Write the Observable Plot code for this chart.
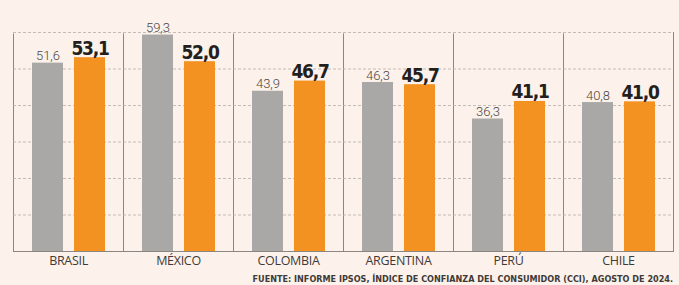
<!DOCTYPE html>
<html>
<head>
<meta charset="utf-8">
<script src="https://cdn.jsdelivr.net/npm/d3@7"></script>
<script src="https://cdn.jsdelivr.net/npm/@observablehq/plot@0.6"></script>
<style>
  html, body { margin: 0; padding: 0; background: #fcf2eb; }
  #chart svg { display: block; }
</style>
</head>
<body>
<div id="chart"></div>
<script>
const countries = ["BRASIL", "MÉXICO", "COLOMBIA", "ARGENTINA", "PERÚ", "CHILE"];
const series = ["anterior", "actual"];
const previous = [51.6, 59.3, 43.9, 46.3, 36.3, 40.8];
const current = [53.1, 52.0, 46.7, 45.7, 41.1, 41.0];
const gridTicks = [10, 20, 30, 40, 50, 60];
const source = "FUENTE: INFORME IPSOS, ÍNDICE DE CONFIANZA DEL CONSUMIDOR (CCI), AGOSTO DE 2024.";

const table = countries.flatMap((c, i) => [
  {country: c, series: series[0], value: previous[i]},
  {country: c, series: series[1], value: current[i]}
]);
const fmt = v => v.toFixed(1).replace(".", ",");
const bg = "#fcf2eb";

const chart = Plot.plot({
  width: 679,
  height: 285,
  marginTop: 32,
  marginBottom: 34,
  marginLeft: 12,
  marginRight: 6,
  style: {background: bg, fontFamily: "'Open Sans', sans-serif", fontSize: "12px"},
  fx: {domain: countries, padding: 0, axis: "bottom", label: null, tickSize: 0, tickPadding: 5},
  x: {domain: series, paddingInner: 0.262, paddingOuter: 0.44, axis: null},
  y: {domain: [0, 60], axis: null},
  color: {domain: series, range: ["#a9a8a6", "#f39121"]},
  marks: [
    Plot.frame({stroke: "#8c8580", strokeWidth: 1}),
    Plot.ruleY([60], {stroke: bg, strokeWidth: 2}),
    Plot.ruleY(gridTicks, {stroke: "#b5aea8", strokeWidth: 0.8, strokeDasharray: "3,2"}),
    Plot.barY(table, {fx: "country", x: "series", y: "value", fill: "series"}),
    Plot.text(table.filter(d => d.series === series[0]), {
      fx: "country", x: "series", y: "value", text: d => fmt(d.value),
      lineAnchor: "bottom", dy: -3, fontSize: 13, fontWeight: 300, fill: "#4a4644",
      fontFamily: "Roboto, sans-serif"
    }),
    Plot.text(table.filter(d => d.series === series[1]), {
      fx: "country", x: "series", y: "value", text: d => fmt(d.value),
      lineAnchor: "bottom", dy: -3, fontSize: 19, fontWeight: "bold", fill: "#231f1d",
      fontFamily: "'DejaVu Sans Condensed', 'DejaVu Sans', sans-serif",
      className: "cur-label"
    })
  ]
});

const svg = d3.select(chart);
svg.selectAll("g[aria-label='fx-axis tick label']")
  .attr("fill", "#3f3a37")
  .attr("font-size", 12.5)
  .attr("font-family", "'Open Sans', sans-serif")
  .style("letter-spacing", "-0.3px");
svg.selectAll("g.cur-label text")
  .style("font-stretch", "condensed")
  .style("letter-spacing", "-1.3px");
// source note inside the svg, bottom right
svg.append("text")
  .attr("x", 673).attr("y", 282)
  .attr("text-anchor", "end")
  .attr("font-size", 9)
  .attr("font-weight", 600)
  .attr("font-family", "'DejaVu Sans Condensed', 'DejaVu Sans', sans-serif")
  .style("font-stretch", "condensed")
  .attr("fill", "#3f3a37")
  .text(source);

document.getElementById("chart").appendChild(chart);
</script>
</body>
</html>
